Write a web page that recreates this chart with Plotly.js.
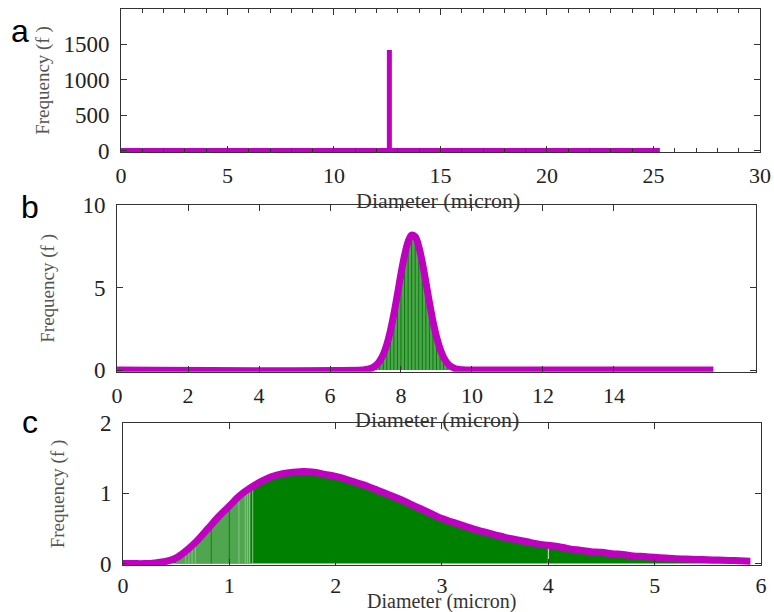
<!DOCTYPE html>
<html><head><meta charset="utf-8">
<script src="https://cdn.plot.ly/plotly-3.0.1.min.js"></script>
<style>html,body{margin:0;padding:0;background:#fff}#chart{width:774px;height:612px}</style>
</head><body><div id="chart"></div>
<script>
// ---------- Panel a : single-size distribution (spike) ----------
const diameterA = [0, 12.6, 12.6, 12.6, 25.3];
const freqA     = [0, 0, 1420, 0, 0];

// ---------- Panel b : narrow Gaussian distribution ----------
const diameterB = [0, 6.9, 7.0, 7.1, 7.2, 7.3, 7.4, 7.5, 7.6, 7.7, 7.8, 7.9, 8.0, 8.1, 8.2, 8.3,
                   8.4, 8.5, 8.6, 8.7, 8.8, 8.9, 9.0, 9.1, 9.2, 9.3, 9.4, 9.5, 9.6, 9.7, 9.8, 9.9, 16.8];
const freqB     = [0, 0, 0.03, 0.07, 0.15, 0.30, 0.55, 0.95, 1.55, 2.37, 3.41, 4.6, 5.84, 6.95, 7.78, 8.18,
                   8.08, 7.49, 6.53, 5.34, 4.11, 2.97, 2.02, 1.29, 0.77, 0.43, 0.23, 0.11, 0.05, 0.02, 0.01, 0, 0];
const binRangeB = [7.2, 9.6];   // histogram bin edges drawn inside this range

// ---------- Panel c : broad log-normal-like distribution ----------
const diameterC = [0.0, 0.1, 0.2, 0.3, 0.4, 0.5, 0.6, 0.7, 0.8, 0.9, 1.0, 1.1, 1.2, 1.3, 1.4, 1.5, 1.6, 1.7, 1.8, 1.9,
                   2.0, 2.1, 2.2, 2.3, 2.4, 2.5, 2.6, 2.7, 2.8, 2.9, 3.0, 3.1, 3.2, 3.3, 3.4, 3.5, 3.6, 3.7, 3.8, 3.9,
                   4.0, 4.1, 4.2, 4.3, 4.4, 4.5, 4.6, 4.7, 4.8, 4.9, 5.0, 5.1, 5.2, 5.3, 5.4, 5.5, 5.6, 5.7, 5.8, 5.9];
const freqC     = [0.00, 0.00, 0.00, 0.01, 0.03, 0.08, 0.19, 0.33, 0.50, 0.67, 0.82, 0.97, 1.08, 1.17, 1.24, 1.28, 1.30, 1.31, 1.30, 1.27,
                   1.24, 1.20, 1.15, 1.10, 1.04, 0.98, 0.92, 0.85, 0.78, 0.71, 0.64, 0.59, 0.54, 0.49, 0.45, 0.41, 0.37, 0.34, 0.31, 0.28,
                   0.26, 0.24, 0.21, 0.19, 0.17, 0.16, 0.14, 0.13, 0.11, 0.10, 0.09, 0.08, 0.07, 0.065, 0.06, 0.055, 0.05, 0.045, 0.04, 0.035];
const lightRangeC = [0.5, 1.2];
const darkEdgeXC  = [0.83, 1.0];
const darkEdgeHC  = [0.55, 0.82];
const paleEdgeXC  = [0.59, 0.62, 0.65, 0.68, 1.09, 1.15, 1.17, 1.19, 1.22];
const paleEdgeHC  = [0.18, 0.22, 0.26, 0.30, 0.95, 1.03, 1.05, 1.07, 1.10];
const gapEdgeXC   = [4.0];
const gapEdgeHC   = [0.25];

// ---------- texts ----------
const panelLabels = ['a', 'b', 'c'];
const xTitleText = 'Diameter (micron)';
const yTitleText = 'Frequency (f )';

const MAG = '#c000c0';
function segs(xs, hs) {
  const x = [], y = [];
  xs.forEach((v, i) => { x.push(v, v, null); y.push(0, hs[i], null); });
  return {x, y};
}
const inB = diameterB.map((v, i) => i).filter(i => diameterB[i] >= binRangeB[0] - 1e-9 && diameterB[i] <= binRangeB[1] + 1e-9);
const edgesB = segs(inB.map(i => diameterB[i]), inB.map(i => freqB[i]));
const inL = diameterC.map((v, i) => i).filter(i => diameterC[i] >= lightRangeC[0] - 1e-9 && diameterC[i] <= lightRangeC[1] + 1e-9);
const darkC = segs(darkEdgeXC, darkEdgeHC), paleC = segs(paleEdgeXC, paleEdgeHC), gapC = segs(gapEdgeXC, gapEdgeHC);

const traces = [
  {x: diameterA, y: freqA, xaxis: 'x', yaxis: 'y', mode: 'lines', line: {color: MAG, width: 5}, hoverinfo: 'skip'},

  {x: diameterB, y: freqB, xaxis: 'x2', yaxis: 'y2', mode: 'lines', fill: 'tozeroy', fillcolor: '#4ca64c',
   line: {width: 0, shape: 'spline'}, hoverinfo: 'skip'},
  {x: edgesB.x, y: edgesB.y, xaxis: 'x2', yaxis: 'y2', mode: 'lines', line: {color: '#0b7a0b', width: 1}, hoverinfo: 'skip'},
  {x: diameterB, y: freqB, xaxis: 'x2', yaxis: 'y2', mode: 'lines', line: {color: MAG, width: 7, shape: 'spline'}},

  {x: diameterC, y: freqC, xaxis: 'x3', yaxis: 'y3', mode: 'lines', fill: 'tozeroy', fillcolor: '#008000',
   line: {width: 0, shape: 'spline'}, hoverinfo: 'skip'},
  {x: inL.map(i => diameterC[i]), y: inL.map(i => freqC[i]), xaxis: 'x3', yaxis: 'y3', mode: 'lines', fill: 'tozeroy',
   fillcolor: '#4fa64f', line: {width: 0, shape: 'spline'}, hoverinfo: 'skip'},
  {x: darkC.x, y: darkC.y, xaxis: 'x3', yaxis: 'y3', mode: 'lines', line: {color: '#137f13', width: 1}, hoverinfo: 'skip'},
  {x: paleC.x, y: paleC.y, xaxis: 'x3', yaxis: 'y3', mode: 'lines', line: {color: '#86c586', width: 1}, hoverinfo: 'skip'},
  {x: gapC.x, y: gapC.y, xaxis: 'x3', yaxis: 'y3', mode: 'lines', line: {color: '#d8ecd8', width: 1}, hoverinfo: 'skip'},
  {x: diameterC, y: freqC, xaxis: 'x3', yaxis: 'y3', mode: 'lines', line: {color: MAG, width: 7, shape: 'spline'}}
];

function tickFont(sz) { return {family: 'Liberation Serif', size: sz, color: '#222'}; }
function yTitle(s) { return {text: yTitleText, font: {family: 'Liberation Serif', size: 19, color: '#555'}, standoff: s}; }
function ax(extra, lblOff, sz) {
  return Object.assign({showgrid: false, zeroline: false, showline: true, linecolor: '#333', linewidth: 1,
    mirror: 'ticks', ticks: 'inside', ticklen: 6, tickcolor: '#333', tickwidth: 1, tickfont: tickFont(sz),
    ticklabelstandoff: lblOff, automargin: false, fixedrange: true}, extra);
}

// x-axis titles sit tight under the tick labels, as in the reference
const xTitlePos = [[438, 201], [437, 419], [441, 601]];
const xTitleSize = [22, 22, 20];
const letterPos = [[19.5, 31], [30, 207], [30, 422]];

const annotations = [];
panelLabels.forEach((t, i) => annotations.push({text: t, x: letterPos[i][0] / 774, y: 1 - letterPos[i][1] / 612,
  xref: 'paper', yref: 'paper', xanchor: 'center', yanchor: 'middle', showarrow: false,
  font: {family: 'Liberation Sans', size: 32, color: '#000'}}));
xTitlePos.forEach((p, i) => annotations.push({text: xTitleText, x: p[0] / 774, y: 1 - p[1] / 612,
  xref: 'paper', yref: 'paper', xanchor: 'center', yanchor: 'middle', showarrow: false,
  font: {family: 'Liberation Serif', size: xTitleSize[i], color: '#333'}}));

const layout = {
  width: 774, height: 612, margin: {l: 0, r: 0, t: 0, b: 0}, showlegend: false,
  paper_bgcolor: '#fff', plot_bgcolor: '#fff',
  font: {family: 'Liberation Serif', size: 22, color: '#222'},
  xaxis:  ax({domain: [0.1563, 0.9819], range: [0, 30], tickvals: [0, 5, 10, 15, 20, 25, 30], anchor: 'y',
           minor: {dtick: 1, tick0: 0, ticks: 'inside', ticklen: 4, tickcolor: '#333'}}, 4, 22),
  yaxis:  ax({domain: [0.7516, 0.9853], range: [-20, 2000], tickvals: [0, 500, 1000, 1500], anchor: 'x', title: yTitle(8)}, 6, 23),
  xaxis2: ax({domain: [0.1512, 0.9767], range: [0, 18], tickvals: [0, 2, 4, 6, 8, 10, 12, 14], anchor: 'y2'}, 4, 22),
  yaxis2: ax({domain: [0.3926, 0.665], range: [-0.1, 10], tickvals: [0, 5, 10], anchor: 'x2', title: yTitle(22)}, 6, 23),
  xaxis3: ax({domain: [0.1589, 0.9832], range: [0, 6], tickvals: [0, 1, 2, 3, 4, 5, 6], anchor: 'y3'}, 1, 22),
  yaxis3: ax({domain: [0.0768, 0.3088], range: [-0.02, 2], tickvals: [0, 1, 2], anchor: 'x3', title: yTitle(30)}, 6, 23),
  annotations: annotations
};

Plotly.newPlot('chart', traces, layout, {staticPlot: true, displayModeBar: false});
</script>
</body></html>
